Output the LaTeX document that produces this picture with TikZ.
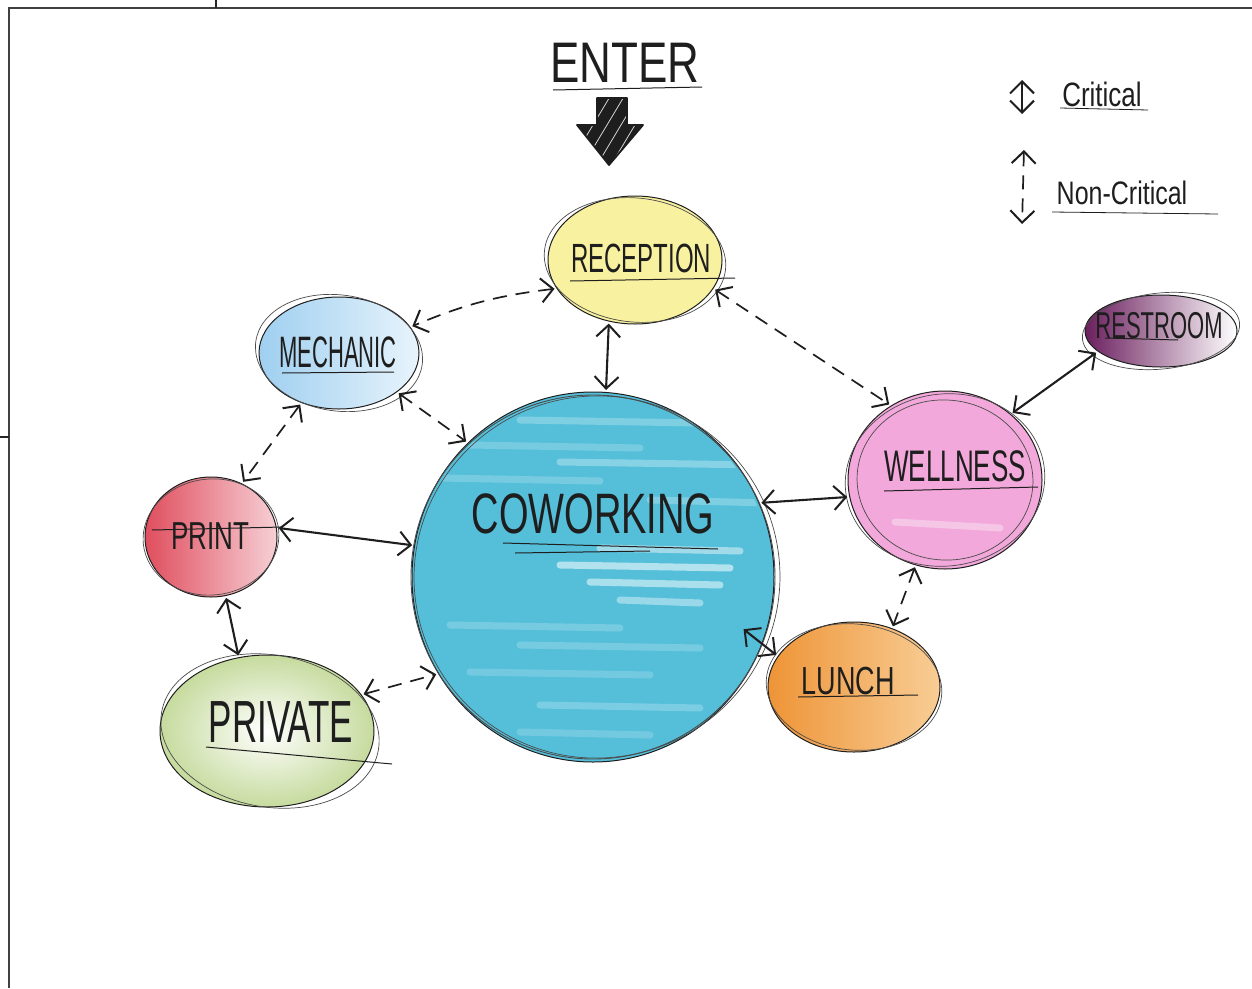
\documentclass[tikz,border=0pt]{standalone}
\usepackage{fontspec}
\setmainfont{Liberation Sans}
\usepackage{graphicx}
\usetikzlibrary{shapes.geometric,arrows.meta}
\definecolor{recY}{HTML}{F8F1A0}
\definecolor{mechB}{HTML}{9FCFF0}
\definecolor{mechL}{HTML}{E8F4FC}
\definecolor{cowC}{HTML}{55BFDA}
\definecolor{prR}{HTML}{E04E5E}
\definecolor{prL}{HTML}{F6D0D5}
\definecolor{pvG}{HTML}{C6DB9E}
\definecolor{wlP}{HTML}{F2A8DA}
\definecolor{luO}{HTML}{EE9437}
\definecolor{luL}{HTML}{F8CD95}
\definecolor{rsP}{HTML}{6B1F5E}
\definecolor{ink}{HTML}{1E1E1E}
\begin{document}
\begin{tikzpicture}[x=1pt,y=-1pt,
  room/.style={ellipse, draw=ink, line width=1pt, inner sep=0pt},
  sk/.style={draw=ink!80, line width=0.7pt},
  crit/.style={line width=2.1pt, draw=ink, shorten <=2pt, shorten >=2pt, {Straight Barb[length=12pt,width=24pt,line width=2pt]}-{Straight Barb[length=12pt,width=24pt,line width=2pt]}},
  noncrit/.style={crit, line width=1.7pt, dash pattern=on 14pt off 9pt},
  lbl/.style={text=ink, inner sep=0pt},
  uline/.style={line width=1pt, draw=ink}]
\useasboundingbox (0,0) rectangle (1252,988);
% frame
\draw[line width=1.6pt, black!75] (1252,8) -- (9,8) -- (9,988);
\draw[line width=1.2pt, black!85] (216,0) -- (216,8);
\draw[line width=1.2pt, black!85] (0,437) -- (9,437);

% rooms
\node[room, fill=recY, minimum width=174pt, minimum height=128pt] (rec) at (635,260) {};
\node[room, left color=mechB, right color=mechL, minimum width=160pt, minimum height=112pt] (mech) at (339,353) {};
\node[room, fill=cowC, minimum width=362pt, minimum height=370pt] (cow) at (593,577) {};
\node[room, left color=prR, right color=prL, minimum width=132pt, minimum height=120pt] (print) at (211,537) {};
\node[room, inner color=white, outer color=pvG, minimum width=214pt, minimum height=152pt] (priv) at (267,731) {};
\node[room, fill=wlP, minimum width=194pt, minimum height=178pt] (well) at (945,480) {};
\node[room, left color=luO, right color=luL, minimum width=172pt, minimum height=130pt] (lunch) at (854,687) {};
\node[room, left color=rsP, middle color=rsP!80, right color=white, minimum width=152pt, minimum height=72pt] (rest) at (1161,331) {};

% coworking streaks
\begin{scope}
\clip (cow.center) ellipse[x radius=178, y radius=183];
\foreach \ya/\xa/\xb/\op in {420/520/700/0.25, 445/470/640/0.2, 462/560/760/0.3, 478/440/600/0.2, 500/650/770/0.25, 548/600/740/0.45, 565/560/730/0.55, 582/590/720/0.5, 600/620/700/0.4, 625/450/620/0.2, 645/520/700/0.2, 672/470/650/0.18, 705/540/700/0.22, 732/520/650/0.18}
  \draw[white, opacity=\op, line width=7pt, line cap=round] (\xa,\ya) -- (\xb,\ya+3);
\end{scope}
\draw[sk, line width=0.9pt] (cow.center) circle[radius=182];
\draw[white, opacity=0.35, line width=7pt, line cap=round] (895,522) -- (1000,528);

% sketch outlines
\draw[sk] (rec.center) ellipse[x radius=91, y radius=62, rotate=-6];
\draw[sk] (mech.center) ellipse[x radius=84, y radius=58, rotate=-8];
\draw[sk] ([xshift=4pt]cow.center) ellipse[x radius=183, y radius=181, rotate=10];
\draw[sk] (print.center) ellipse[x radius=68, y radius=58, rotate=6];
\draw[sk] ([xshift=3pt]priv.center) ellipse[x radius=110, y radius=76, rotate=-10];
\draw[sk] (well.center) ellipse[x radius=100, y radius=86, rotate=8];
\draw[sk] (well.center) ellipse[x radius=88, y radius=80, rotate=-5];
\draw[sk] (lunch.center) ellipse[x radius=88, y radius=63, rotate=-6];
\draw[sk] (rest.center) ellipse[x radius=79, y radius=38, rotate=6];

% labels
\node[lbl, font=\fontsize{44}{44}\selectfont] (enter) at (625,63) {\scalebox{1}[1.3]{ENTER}};
\node[lbl, font=\fontsize{24}{24}\selectfont] (recT) at (641,258) {\scalebox{1}[1.7]{RECEPTION}};
\node[lbl, font=\fontsize{22}{22}\selectfont] (mechT) at (338,352) {\scalebox{1}[2.0]{MECHANIC}};
\node[lbl, font=\fontsize{38}{38}\selectfont] (cowT) at (593,514) {\scalebox{1}[1.5]{COWORKING}};
\node[lbl, font=\fontsize{26}{26}\selectfont] (wellT) at (955,466) {\scalebox{1}[1.7]{WELLNESS}};
\node[lbl, font=\fontsize{26}{26}\selectfont] (printT) at (210,536) {\scalebox{1}[1.5]{PRINT}};
\node[lbl, font=\fontsize{27}{27}\selectfont] (lunchT) at (848,681) {\scalebox{1}[1.45]{LUNCH}};
\node[lbl, font=\fontsize{35}{35}\selectfont] (privT) at (281,722) {\scalebox{1}[1.7]{PRIVATE}};
\node[lbl, font=\fontsize{22}{22}\selectfont] (restT) at (1159,326) {\scalebox{1}[1.7]{RESTROOM}};
\node[lbl, font=\fontsize{26}{26}\selectfont] (critT) at (1102,94) {\scalebox{1}[1.3]{Critical}};
\node[lbl, font=\fontsize{25}{25}\selectfont] (ncritT) at (1122,193) {\scalebox{1}[1.3]{Non-Critical}};

% underlines
\draw[uline] (553,90) -- (702,87);
\draw[uline, line width=0.8pt] (1060,108) -- (1148,110);
\draw[uline, line width=0.8pt] (1052,212) -- (1218,214);
\draw[uline] (570,281) -- (735,278);
\draw[uline] (282,373) -- (394,372);
\draw[uline] (503,543) -- (718,549);
\draw[uline] (515,553) -- (650,551);
\draw[uline] (884,491) -- (1038,487);
\draw[uline] (152,530) -- (283,527);
\draw[uline] (798,697) -- (918,695);
\draw[uline] (206,747) -- (392,764);
\draw[uline] (1105,338) -- (1178,340);

% enter arrow
\begin{scope}
\clip (597,98) -- (627,98) -- (627,125) -- (643,125) -- (609,165) -- (577,125) -- (597,125) -- cycle;
\fill[ink] (570,90) rectangle (650,170);
\foreach \i in {566,580,...,650}
  \draw[white, opacity=0.8, line width=0.8pt] (\i,170) -- (\i+45,95);
\end{scope}
\draw[ink, line width=1.8pt, line join=round] (597,98) -- (627,98) -- (627,125) -- (643,125) -- (609,165) -- (577,125) -- (597,125) -- cycle;

% legend arrows
\coordinate (c1) at (1022,78);
\coordinate (c2) at (1022,116);
\coordinate (n1) at (1024,148);
\coordinate (n2) at (1022,226);
\draw[crit] (c1) -- (c2);
\draw[noncrit] (n1) -- (n2);

% connectors
\coordinate (cwl) at (742,628);
\draw[noncrit] (rec.200) to[bend right=8] (mech.20);
\draw[crit] (rec.247) -- (cow.86);
\draw[noncrit] (rec.340) -- (well.126);
\draw[noncrit] (mech.326) -- (cow.133);
\draw[noncrit] (mech.233) -- (print.60);
\draw[crit] (print.8) -- (cow.170);
\draw[crit] (print.284) -- (priv.111);
\draw[noncrit] (priv.21) -- (cow.212);
\draw[crit] (cow.24) -- (well.190);
\draw[crit] (cwl) -- (lunch.158);
\draw[noncrit] (well.251) -- (lunch.57);
\draw[crit] (well.45) -- (rest.198);
\end{tikzpicture}
\end{document}
